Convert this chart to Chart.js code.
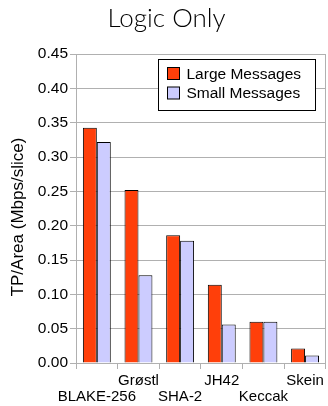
<!DOCTYPE html>
<html>
<head>
<meta charset="utf-8">
<script src="https://cdn.jsdelivr.net/npm/chart.js@4/dist/chart.umd.min.js"></script>
<style>
  html, body { margin: 0; padding: 0; background: #fff; }
  #wrap { width: 328px; height: 406px; }
</style>
</head>
<body>
<div id="wrap"><canvas id="c" width="328" height="406"></canvas></div>
<script>
const categories = ['BLAKE-256', 'Grøstl', 'SHA-2', 'JH42', 'Keccak', 'Skein'];
const largeMessages = [0.343, 0.252, 0.186, 0.114, 0.060, 0.021];
const smallMessages = [0.322, 0.128, 0.178, 0.056, 0.060, 0.011];
const yTicks = [0, 0.05, 0.10, 0.15, 0.20, 0.25, 0.30, 0.35, 0.40, 0.45];
const yTitle = 'TP/Area (Mbps/slice)';

const RED = '#FF3F0A';
const LAV = '#CCCCFF';
const GRID = '#b0b0b0';
const SANS = '"Liberation Sans", Arial, sans-serif';

// staggered category labels: odd ones drop to the second row
const tickLabels = categories.map((c, i) => (i % 2 === 0 ? ['', c] : [c]));

// right edge of the plot frame + y axis title (sits a bit below the plot centre)
const frame = {
  id: 'frame',
  beforeDatasetsDraw(chart) {
    const { ctx, chartArea: a } = chart;
    ctx.save();
    ctx.strokeStyle = GRID;
    ctx.lineWidth = 1;
    ctx.beginPath();
    ctx.moveTo(Math.round(a.right) - 0.5, a.top);
    ctx.lineTo(Math.round(a.right) - 0.5, a.bottom);
    ctx.stroke();
    ctx.translate(18, 217);
    ctx.rotate(-Math.PI / 2);
    ctx.fillStyle = '#000';
    ctx.font = '17px ' + SANS;
    ctx.textAlign = 'center';
    ctx.textBaseline = 'middle';
    ctx.fillText(yTitle, 0, 0);
    ctx.restore();
  },
};

// legend box drawn inside the plot area, top-right
const boxLegend = {
  id: 'boxLegend',
  afterDraw(chart) {
    const { ctx } = chart;
    const x = 158.5, y = 59.5, w = 157, h = 51;
    ctx.save();
    ctx.fillStyle = '#fff';
    ctx.fillRect(x, y, w, h);
    ctx.strokeStyle = '#000';
    ctx.lineWidth = 1;
    ctx.strokeRect(x, y, w, h);
    ctx.font = '15.5px ' + SANS;
    ctx.textBaseline = 'middle';
    chart.data.datasets.forEach((ds, i) => {
      const ry = y + 14 + i * 19.5;
      ctx.fillStyle = ds.backgroundColor;
      ctx.fillRect(x + 9, ry - 6, 12, 12);
      ctx.strokeRect(x + 9, ry - 6, 12, 12);
      ctx.fillStyle = '#000';
      ctx.fillText(ds.label, x + 28, ry + 1);
    });
    ctx.restore();
  },
};

new Chart(document.getElementById('c'), {
  type: 'bar',
  data: {
    labels: tickLabels,
    datasets: [
      { label: 'Large Messages', data: largeMessages, backgroundColor: RED, borderColor: '#000', borderWidth: 1 },
      { label: 'Small Messages', data: smallMessages, backgroundColor: LAV, borderColor: '#000', borderWidth: 1 },
    ],
  },
  options: {
    responsive: false,
    animation: false,
    layout: { padding: { left: 7, right: 2, top: 0, bottom: 0 } },
    datasets: { bar: { categoryPercentage: 0.67, barPercentage: 1.0 } },
    scales: {
      x: {
        afterFit: s => { s.height = 43; },
        grid: { display: true, drawOnChartArea: false, color: GRID, tickLength: 6, offset: true },
        border: { color: GRID },
        ticks: {
          autoSkip: false, maxRotation: 0, minRotation: 0, color: '#000', padding: 4,
          font: { family: SANS, size: 15, lineHeight: 1.07 },
        },
      },
      y: {
        min: 0, max: 0.45,
        afterFit: s => { s.width = 69; },
        afterBuildTicks: (axis) => { axis.ticks = yTicks.map(v => ({ value: v })); },
        grid: { color: GRID, tickLength: 6 },
        border: { color: GRID },
        ticks: {
          color: '#000', padding: 2,
          font: { family: SANS, size: 15.5 },
          callback: v => v.toFixed(2),
        },
      },
    },
    plugins: {
      legend: { display: false },
      tooltip: { enabled: false },
      title: {
        display: true, text: 'Logic Only', color: '#000',
        font: { family: 'Lato, "DejaVu Sans", sans-serif', size: 26, weight: 300 },
        padding: { top: 3, bottom: 20 },
      },
    },
  },
  plugins: [frame, boxLegend],
});
</script>
</body>
</html>
